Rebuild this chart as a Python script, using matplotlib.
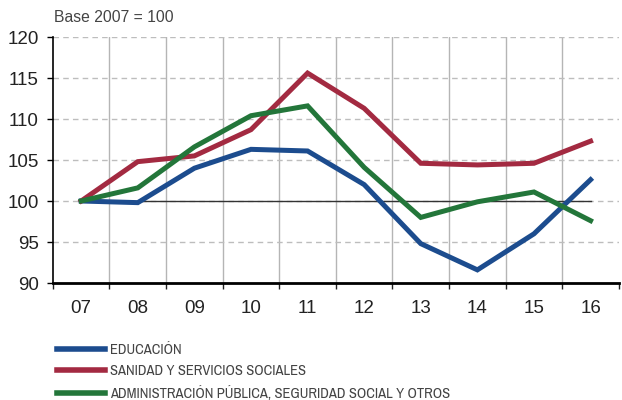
# indices base 2007 = 100 by sector

import numpy as np
from matplotlib import pyplot as plt
from matplotlib import font_manager

years = ['07', '08', '09', '10', '11', '12', '13', '14', '15', '16']
educacion = [100, 99.8, 104.0, 106.3, 106.1, 102.0, 94.8, 91.6, 96.0, 102.6]
sanidad = [100, 104.8, 105.5, 108.7, 115.6, 111.3, 104.6, 104.4, 104.6, 107.3]
administracion = [100, 101.6, 106.6, 110.4, 111.6, 104.1, 98.0, 99.9, 101.1, 97.6]
labels = ['EDUCACIÓN', 'SANIDAD Y SERVICIOS SOCIALES',
          'ADMINISTRACIÓN PÚBLICA, SEGURIDAD SOCIAL Y OTROS']
colors = ['#1c4c8e', '#a32a41', '#23763a']

# pick a narrow face for the legend if one is around
names = {f.name for f in font_manager.fontManager.ttflist}
narrow = 'Liberation Sans'
for cand in ['Liberation Sans Narrow', 'Arial Narrow', 'Archivo Narrow', 'PT Sans Narrow',
             'Roboto Condensed', 'Open Sans Condensed', 'Fira Sans Condensed',
             'IBM Plex Sans Condensed', 'Encode Sans Condensed', 'Pragati Narrow']:
    if cand in names:
        narrow = cand
        break
plt.rcParams['font.family'] = ['Liberation Sans', 'DejaVu Sans']

fig = plt.figure(figsize=(6.22, 4.0), dpi=100)
ax = fig.add_axes([0.085, 0.2925, 0.91, 0.615])

x = np.arange(len(years))
ax.set_xlim(-0.5, len(years) - 0.5)
ax.set_ylim(90, 120)

# grid
for b in np.arange(0.5, len(years) - 0.5, 1):
    ax.axvline(b, color='#b5b5b5', lw=1, zorder=1)
for v in [95, 100, 105, 110, 115, 120]:
    ax.axhline(v, color='#bdbdbd', lw=1, ls=(0, (4, 3)), zorder=1)
ax.plot([0, len(years) - 1], [100, 100], color='#333333', lw=1, zorder=2)

for vals, c, lab in zip([educacion, sanidad, administracion], colors, labels):
    ax.plot(x, vals, color=c, lw=3.6, label=lab, zorder=3, solid_joinstyle='miter')

ax.set_yticks([90, 95, 100, 105, 110, 115, 120])
ax.set_xticks(x)
ax.set_xticklabels(years)
ax.set_xticks(np.arange(-0.5, len(years), 1), minor=True)
ax.tick_params(axis='x', which='major', length=0, pad=12, labelsize=13.5, labelcolor='#222222')
ax.tick_params(axis='x', which='minor', length=4, width=1, color='#222222')
ax.tick_params(axis='y', length=4, width=1, labelsize=13.5, labelcolor='#222222', pad=6)

for s in ['top', 'right']:
    ax.spines[s].set_visible(False)
ax.spines['left'].set_linewidth(1.2)
ax.spines['bottom'].set_linewidth(2)

fig.text(0.087, 0.955, 'Base 2007 = 100', fontsize=11.3, color='#444444', va='center')

leg = fig.legend(loc='upper left', bbox_to_anchor=(0.092, 0.142), frameon=False,
                 handlelength=3.3, handletextpad=0.3, labelspacing=0.5,
                 borderaxespad=0, borderpad=0,
                 prop={'family': narrow, 'size': 10.5})
for t in leg.get_texts():
    t.set_color('#444444')
for h in leg.get_lines():
    h.set_linewidth(4)

plt.savefig('out.png', dpi=100)
